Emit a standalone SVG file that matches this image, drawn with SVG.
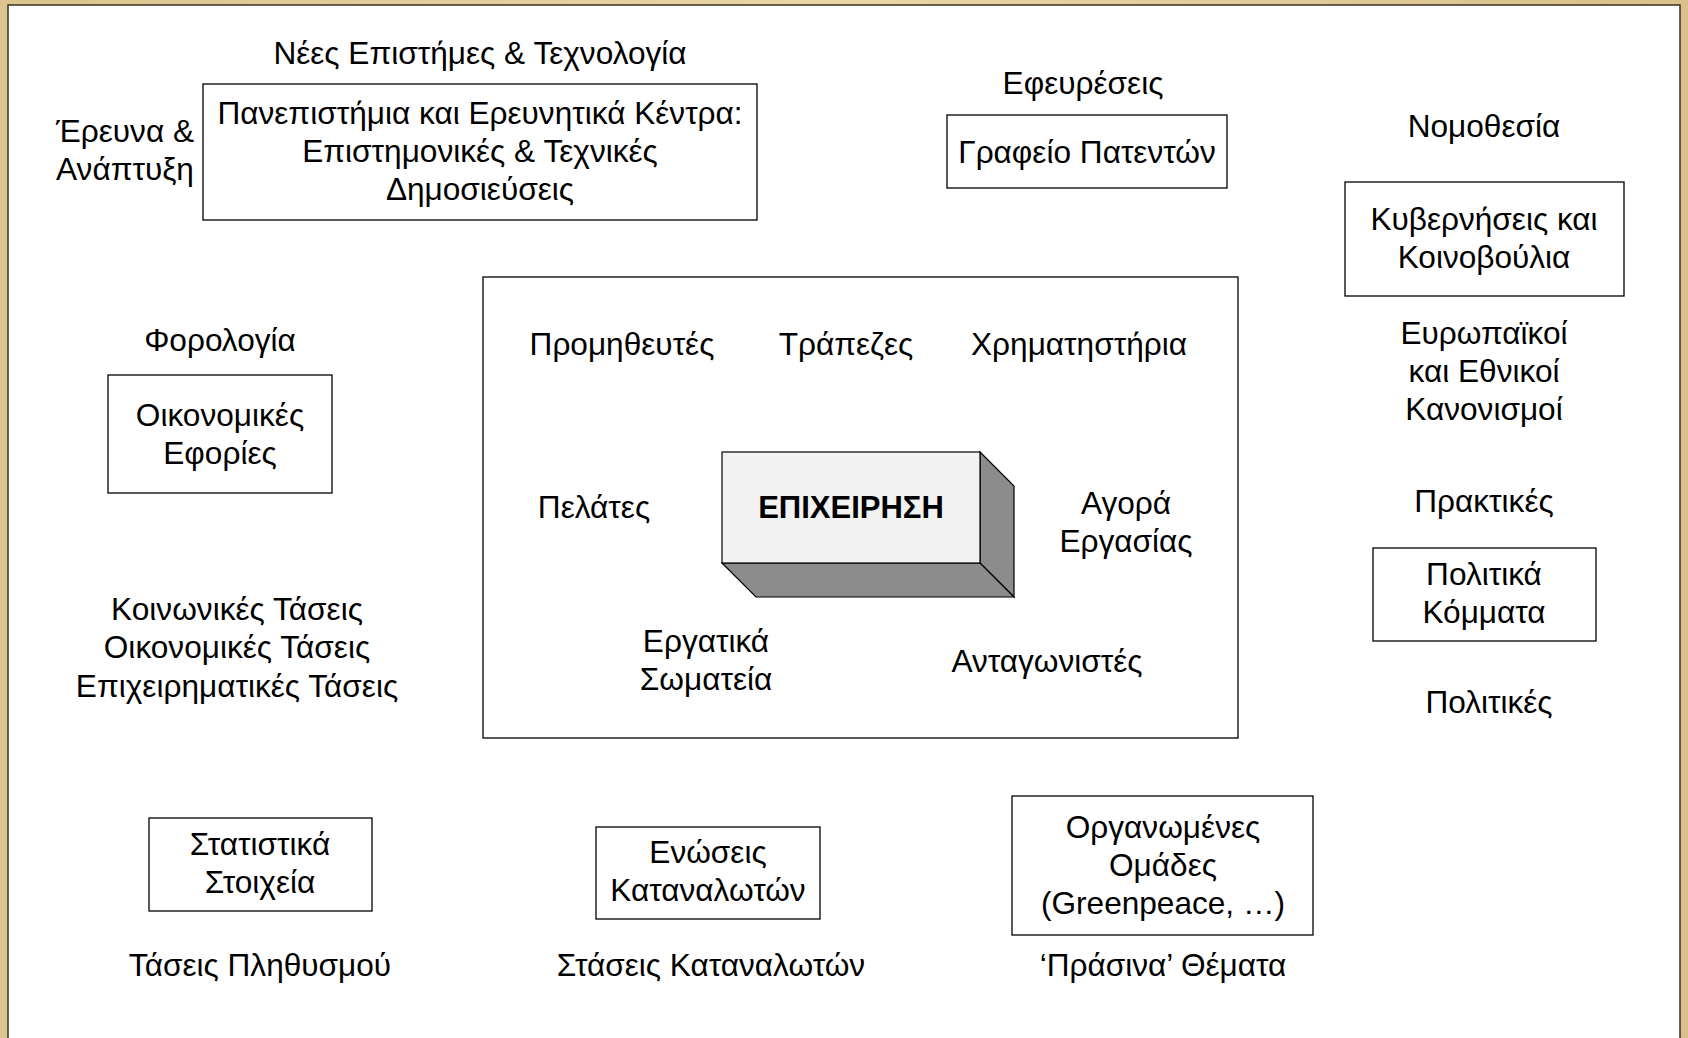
<svg xmlns="http://www.w3.org/2000/svg" width="1688" height="1038" viewBox="0 0 1688 1038">
<defs>
<linearGradient id="parch" x1="0" y1="0" x2="1" y2="0">
<stop offset="0" stop-color="#dcc48e"/>
<stop offset="0.5" stop-color="#e9d6a6"/>
<stop offset="1" stop-color="#d9c08a"/>
</linearGradient>
<style>
text{font-family:"Liberation Sans",Arial,sans-serif;font-size:31.6px;fill:#000;text-anchor:middle}
.box{fill:#fff;stroke:#000;stroke-width:1.3}
.b{font-weight:bold;font-size:31px}
</style>
</defs>
<rect x="0" y="0" width="1688" height="1038" fill="url(#parch)"/>
<rect x="8" y="5" width="1672" height="1040" fill="#fff" stroke="#3a3020" stroke-width="1.5"/>

<g id="env">
<rect x="483" y="277" width="755" height="461" class="box"/>
</g>

<g id="business">
<polygon points="980,452 1014,486 1014,597 980,563" fill="#8c8c8c" stroke="#000" stroke-width="1.2"/>
<polygon points="722,563 980,563 1014,597 756,597" fill="#8c8c8c" stroke="#000" stroke-width="1.2"/>
<rect x="722" y="452" width="258" height="111" fill="#f2f2f2" stroke="#000" stroke-width="1.2"/>
<text x="851" y="518" class="b">ΕΠΙΧΕΙΡΗΣΗ</text>
</g>

<g id="inner-labels">
<text x="622" y="355">Προμηθευτές</text>
<text x="846" y="355">Τράπεζες</text>
<text x="1079" y="355">Χρηματηστήρια</text>
<text x="594" y="518">Πελάτες</text>
<text x="1126" y="514">Αγορά</text>
<text x="1126" y="552">Εργασίας</text>
<text x="706" y="652">Εργατικά</text>
<text x="706" y="690">Σωματεία</text>
<text x="1047" y="672">Ανταγωνιστές</text>
</g>

<g id="universities">
<text x="480" y="64">Νέες Επιστήμες &amp; Τεχνολογία</text>
<text x="125" y="142">Έρευνα &amp;</text>
<text x="125" y="180">Ανάπτυξη</text>
<rect x="203" y="84" width="554" height="136" class="box"/>
<text x="480" y="124">Πανεπιστήμια και Ερευνητικά Κέντρα:</text>
<text x="480" y="162">Επιστημονικές &amp; Τεχνικές</text>
<text x="480" y="200">Δημοσιεύσεις</text>
</g>

<g id="patents">
<text x="1083" y="94">Εφευρέσεις</text>
<rect x="947" y="115" width="280" height="73" class="box"/>
<text x="1087" y="163">Γραφείο Πατεντών</text>
</g>

<g id="government">
<text x="1484" y="137">Νομοθεσία</text>
<rect x="1345" y="182" width="279" height="114" class="box"/>
<text x="1484" y="230">Κυβερνήσεις και</text>
<text x="1484" y="268">Κοινοβούλια</text>
<text x="1484" y="344">Ευρωπαϊκοί</text>
<text x="1484" y="382">και Εθνικοί</text>
<text x="1484" y="420">Κανονισμοί</text>
</g>

<g id="tax">
<text x="220" y="351">Φορολογία</text>
<rect x="108" y="375" width="224" height="118" class="box"/>
<text x="220" y="426">Οικονομικές</text>
<text x="220" y="464">Εφορίες</text>
</g>

<g id="trends">
<text x="237" y="620">Κοινωνικές Τάσεις</text>
<text x="237" y="658">Οικονομικές Τάσεις</text>
<text x="237" y="697">Επιχειρηματικές Τάσεις</text>
</g>

<g id="parties">
<text x="1484" y="512">Πρακτικές</text>
<rect x="1373" y="548" width="223" height="93" class="box"/>
<text x="1484" y="585">Πολιτικά</text>
<text x="1484" y="623">Κόμματα</text>
<text x="1489" y="713">Πολιτικές</text>
</g>

<g id="statistics">
<rect x="149" y="818" width="223" height="93" class="box"/>
<text x="260" y="855">Στατιστικά</text>
<text x="260" y="893">Στοιχεία</text>
<text x="260" y="976">Τάσεις Πληθυσμού</text>
</g>

<g id="consumers">
<rect x="596" y="827" width="224" height="92" class="box"/>
<text x="708" y="863">Ενώσεις</text>
<text x="708" y="901">Καταναλωτών</text>
<text x="711" y="976">Στάσεις Καταναλωτών</text>
</g>

<g id="groups">
<rect x="1012" y="796" width="301" height="139" class="box"/>
<text x="1163" y="838">Οργανωμένες</text>
<text x="1163" y="876">Ομάδες</text>
<text x="1163" y="914">(Greenpeace, …)</text>
<text x="1163" y="976">‘Πράσινα’ Θέματα</text>
</g>

<g id="connectors"></g>
</svg>
